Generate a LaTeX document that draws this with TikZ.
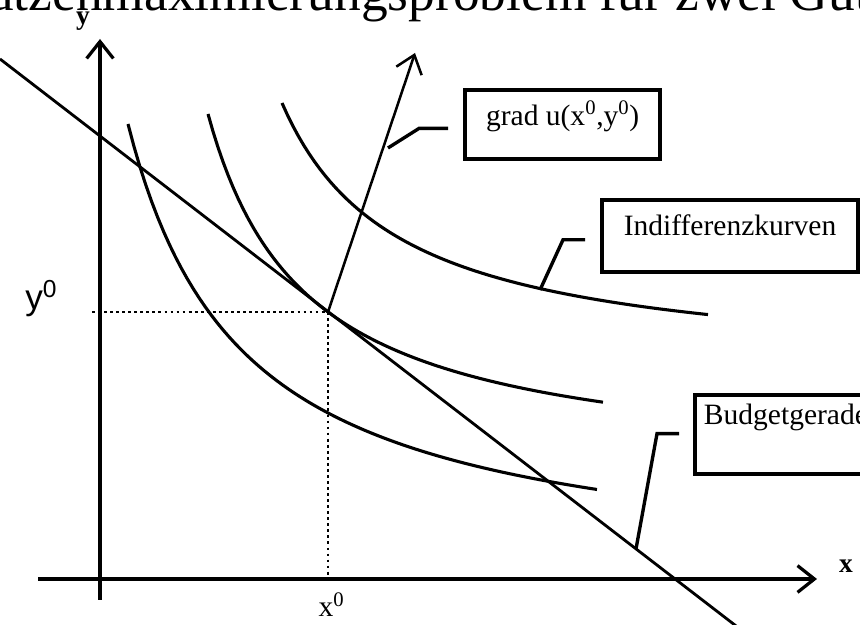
\documentclass[tikz,border=0pt]{standalone}
\usepackage{fontspec}
\setmainfont{Liberation Serif}
\newfontfamily\arialfont{Liberation Sans}
\usetikzlibrary{arrows.meta,calc}

\begin{document}
\begin{tikzpicture}[x=0.25cm, y=0.25cm,
		achse/.style={line width=2.3pt, -{Straight Barb[length=12pt,width=19pt]}},
		kurve/.style={line width=2.2pt, samples=80},
		budget/.style={line width=2pt},
		hilfslinie/.style={line width=2pt, dash pattern=on 2pt off 2.3pt},
		gradpfeil/.style={line width=1.8pt, -{Straight Barb[length=12pt,width=19pt]}},
		kasten/.style={draw, line width=2.8pt, anchor=north west, inner ysep=0pt, font=\fontsize{21pt}{25pt}\selectfont},
		leitung/.style={line width=2.4pt},
		achsenlabel/.style={anchor=base, inner sep=0pt, font=\bfseries\fontsize{19.5pt}{23pt}\selectfont}]
	\useasboundingbox (0,0) rectangle (86,62.5);
	\clip (0,0) rectangle (86,62.5);
	
	% --- Titel (oben abgeschnitten) ---
	\node[anchor=base, inner sep=0pt, font=\fontsize{38pt}{42pt}\selectfont] (titel) at (43,61.4) {Nutzenmaximierungsproblem für zwei Güter};
	
	% --- Achsen ---
	\draw[achse] (3.8,4.6) -- (81.7,4.6);
	\draw[achse] (10,2.5) -- (10,58.6);
	\node[achsenlabel] (xlab) at (84.6,5.2) {x};
	\node[achsenlabel] (ylab) at (8.3,60.0) {y};
	
	% --- Optimum ---
	\coordinate (T) at (32.8,31.3);
	\draw[hilfslinie] (9.2,31.3) -- (T) -- (32.8,5.0);
	\node[anchor=base west, inner sep=0pt, font=\arialfont\fontsize{25pt}{30pt}\selectfont] (ynull) at (2.5,31.5) {y\textsuperscript{0}};
	\node[anchor=base, inner sep=0pt, font=\fontsize{21pt}{25pt}\selectfont] (xnull) at (33.15,0.8) {x\textsuperscript{0}};
	
	% --- Indifferenzkurven ---
	\draw[kurve, domain=12.8:59.7] plot (\x, {4.59+523.37/(\x-1.3)});
	\draw[kurve, domain=20.8:60.3] plot (\x, {15.13+352.51/(\x-11)});
	\draw[kurve, domain=28.2:70.8] plot (\x, {25.23+315.55/(\x-16.5)});
	
	% --- Budgetgerade ---
	\draw[budget] (0,56.6) -- (74,-0.4);
	
	% --- Gradient ---
	\draw[gradpfeil] (T) -- (41.5,57.2);
	
	% --- Beschriftungen mit Hinweislinien ---
	\node[kasten, text height=25pt, text depth=24pt, inner xsep=15pt] (gradbox) at (46.3,53.7) {grad u(x\textsuperscript{0},y\textsuperscript{0})};
	\node[kasten, text height=25pt, text depth=26pt, inner xsep=15.5pt] (indiffbox) at (60.0,42.7) {Indifferenzkurven};
	\node[kasten, text height=21pt, text depth=35.5pt, inner xsep=6.4pt] (budgetbox) at (69.3,23.2) {Budgetgerade};
	
	\coordinate (gradend) at (38.8,47.7);
	\coordinate (indiffend) at (54.0,33.5);
	\coordinate (budgetend) at (63.6,7.6);
	\draw[leitung] ($(gradbox.west)+(-1.5,-0.4)$) -- ++(-2.9,0) -- (gradend);
	\draw[leitung] ($(indiffbox.west)+(-1.5,-0.4)$) -- ++(-2.2,0) -- (indiffend);
	\draw[leitung] ($(budgetbox.west)+(-1.4,0.1)$) -- ++(-2.2,0) -- (budgetend);
\end{tikzpicture}
\end{document}
